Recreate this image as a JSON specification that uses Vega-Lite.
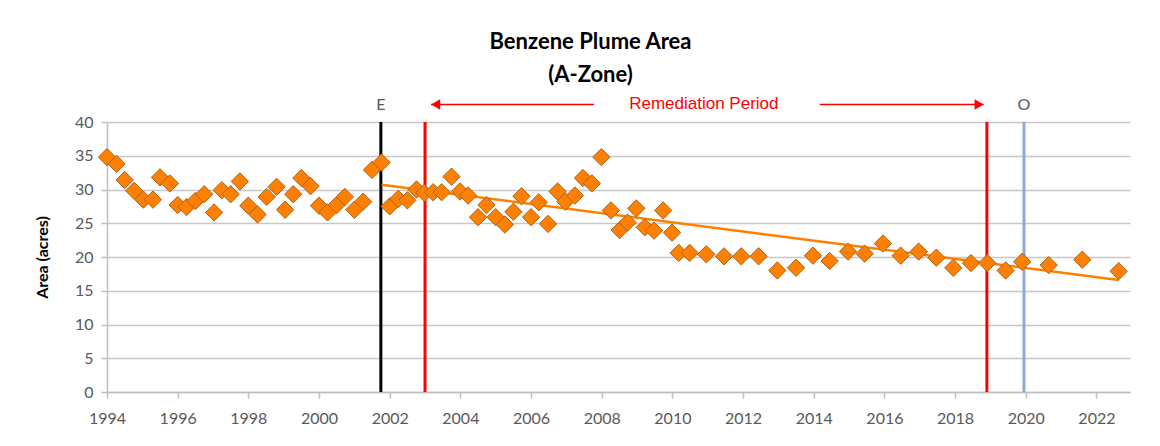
{
  "$schema": "https://vega.github.io/schema/vega-lite/v6.json",
  "autosize": "none",
  "width": 1023,
  "height": 270,
  "padding": {"left": 107, "top": 122, "right": 30, "bottom": 54},
  "background": "white",
  "config": {"view": {"stroke": null}, "font": "Lato"},
  "title": {
    "text": ["Benzene Plume Area", "(A-Zone)"],
    "font": "Lato",
    "fontSize": 22,
    "fontWeight": "bold",
    "color": "#000000",
    "lineHeight": 33,
    "anchor": "middle",
    "dx": -28,
    "offset": 8
  },
  "datasets": {
    "pts": [
      {"year": 1994.0, "value": 34.8}, {"year": 1994.27, "value": 33.8}, {"year": 1994.5, "value": 31.4},
      {"year": 1994.77, "value": 29.8}, {"year": 1995.03, "value": 28.5}, {"year": 1995.3, "value": 28.5},
      {"year": 1995.5, "value": 31.8}, {"year": 1995.78, "value": 30.9}, {"year": 1996.0, "value": 27.7},
      {"year": 1996.25, "value": 27.4}, {"year": 1996.5, "value": 28.3}, {"year": 1996.75, "value": 29.3},
      {"year": 1997.03, "value": 26.6}, {"year": 1997.25, "value": 29.9}, {"year": 1997.5, "value": 29.3},
      {"year": 1997.76, "value": 31.2}, {"year": 1998.0, "value": 27.6}, {"year": 1998.26, "value": 26.3},
      {"year": 1998.52, "value": 28.9}, {"year": 1998.8, "value": 30.4}, {"year": 1999.04, "value": 27.0},
      {"year": 1999.27, "value": 29.3}, {"year": 1999.5, "value": 31.7}, {"year": 1999.76, "value": 30.5},
      {"year": 2000.0, "value": 27.6}, {"year": 2000.24, "value": 26.6}, {"year": 2000.5, "value": 27.7},
      {"year": 2000.73, "value": 28.9}, {"year": 2001.0, "value": 27.0}, {"year": 2001.25, "value": 28.2},
      {"year": 2001.5, "value": 32.9}, {"year": 2001.77, "value": 34.0}, {"year": 2002.0, "value": 27.5},
      {"year": 2002.24, "value": 28.6}, {"year": 2002.5, "value": 28.4}, {"year": 2002.76, "value": 30.0},
      {"year": 2002.98, "value": 29.5}, {"year": 2003.23, "value": 29.6}, {"year": 2003.47, "value": 29.6},
      {"year": 2003.75, "value": 31.9}, {"year": 2003.99, "value": 29.7}, {"year": 2004.22, "value": 29.1},
      {"year": 2004.5, "value": 25.9}, {"year": 2004.74, "value": 27.7}, {"year": 2005.0, "value": 25.9},
      {"year": 2005.26, "value": 24.8}, {"year": 2005.5, "value": 26.7}, {"year": 2005.73, "value": 29.0},
      {"year": 2006.0, "value": 25.9}, {"year": 2006.22, "value": 28.1}, {"year": 2006.48, "value": 24.9},
      {"year": 2006.75, "value": 29.7}, {"year": 2006.97, "value": 28.2}, {"year": 2007.24, "value": 29.1},
      {"year": 2007.47, "value": 31.7}, {"year": 2007.72, "value": 30.9}, {"year": 2007.99, "value": 34.8},
      {"year": 2008.26, "value": 26.9}, {"year": 2008.51, "value": 24.0}, {"year": 2008.73, "value": 25.1},
      {"year": 2008.98, "value": 27.2}, {"year": 2009.22, "value": 24.4}, {"year": 2009.48, "value": 23.9},
      {"year": 2009.74, "value": 26.9}, {"year": 2009.99, "value": 23.6}, {"year": 2010.18, "value": 20.6},
      {"year": 2010.49, "value": 20.6}, {"year": 2010.96, "value": 20.4}, {"year": 2011.46, "value": 20.1},
      {"year": 2011.95, "value": 20.1}, {"year": 2012.44, "value": 20.1}, {"year": 2012.97, "value": 18.0},
      {"year": 2013.5, "value": 18.4}, {"year": 2013.98, "value": 20.2}, {"year": 2014.45, "value": 19.4},
      {"year": 2014.97, "value": 20.8}, {"year": 2015.44, "value": 20.5}, {"year": 2015.96, "value": 22.0},
      {"year": 2016.46, "value": 20.2}, {"year": 2016.97, "value": 20.8}, {"year": 2017.47, "value": 19.9},
      {"year": 2017.95, "value": 18.4}, {"year": 2018.45, "value": 19.1}, {"year": 2018.91, "value": 19.1},
      {"year": 2019.43, "value": 18.0}, {"year": 2019.9, "value": 19.3}, {"year": 2020.65, "value": 18.8},
      {"year": 2021.6, "value": 19.6}, {"year": 2022.63, "value": 17.9}
    ],
    "trend": [
      {"year": 2001.77, "value": 30.7},
      {"year": 2022.63, "value": 16.6}
    ],
    "vlines": [
      {"year": 2001.75, "line": "E", "value": 0, "top": 40},
      {"year": 2003.0, "line": "Start", "value": 0, "top": 40},
      {"year": 2018.9, "line": "End", "value": 0, "top": 40},
      {"year": 2019.95, "line": "O", "value": 0, "top": 40}
    ],
    "letters": [
      {"year": 2001.75, "label": "E", "value": 42.5},
      {"year": 2019.95, "label": "O", "value": 42.5}
    ],
    "period": [
      {"year": 2010.89, "label": "Remediation Period", "value": 42.6}
    ],
    "arrows": [
      {"year": 2003.17, "end": 2007.78, "value": 42.6},
      {"year": 2014.17, "end": 2018.81, "value": 42.6}
    ],
    "heads": [
      {"year": 2003.3, "dir": "left", "value": 42.6},
      {"year": 2018.68, "dir": "right", "value": 42.6}
    ]
  },
  "encoding": {
    "x": {
      "field": "year", "type": "quantitative",
      "scale": {"domain": [1994, 2022.95], "nice": false, "zero": false},
      "axis": {
        "values": [1994, 1996, 1998, 2000, 2002, 2004, 2006, 2008, 2010, 2012, 2014, 2016, 2018, 2020, 2022],
        "format": "d", "title": null, "grid": false,
        "labelFlush": false, "labelOverlap": false,
        "domainColor": "#bfbfbf", "domainWidth": 1.5,
        "tickColor": "#bfbfbf", "tickSize": 6, "tickWidth": 1.5,
        "labelFont": "Lato", "labelFontSize": 16, "labelColor": "#595959", "labelPadding": 12
      }
    },
    "y": {
      "field": "value", "type": "quantitative",
      "scale": {"domain": [0, 40], "nice": false},
      "axis": {
        "values": [0, 5, 10, 15, 20, 25, 30, 35, 40],
        "labelOverlap": false, "labelFlush": false,
        "title": "Area (acres)", "titleFont": "Lato", "titleFontSize": 16, "titleFontWeight": "bold",
        "titleColor": "#000000", "titlePadding": 24,
        "grid": true, "gridColor": "#c8c8c8", "gridWidth": 1.5,
        "domainColor": "#bfbfbf", "domainWidth": 1.5,
        "tickColor": "#bfbfbf", "tickSize": 6, "tickWidth": 1.5,
        "labelFont": "Lato", "labelFontSize": 16, "labelColor": "#595959", "labelPadding": 8
      }
    }
  },
  "layer": [
    {
      "data": {"name": "vlines"},
      "mark": {"type": "rule", "strokeWidth": 3},
      "encoding": {
        "y2": {"field": "top"},
        "color": {
          "field": "line", "type": "nominal",
          "scale": {"domain": ["E", "Start", "End", "O"], "range": ["#000000", "#ff0000", "#ff0000", "#8eaadb"]},
          "legend": null
        }
      }
    },
    {
      "data": {"name": "trend"},
      "mark": {"type": "line", "color": "#ff8000", "strokeWidth": 2.5},
      "encoding": {}
    },
    {
      "data": {"name": "pts"},
      "mark": {"type": "point", "shape": "diamond", "filled": true, "size": 300, "fill": "#ff8000", "stroke": "#a8641e", "strokeWidth": 1, "opacity": 1},
      "encoding": {}
    },
    {
      "data": {"name": "letters"},
      "mark": {"type": "text", "font": "Lato", "fontSize": 16, "color": "#595959", "baseline": "middle"},
      "encoding": {
        "text": {"field": "label"}
      }
    },
    {
      "data": {"name": "period"},
      "mark": {"type": "text", "font": "Liberation Sans", "fontSize": 17, "color": "#ff0000", "baseline": "middle"},
      "encoding": {
        "text": {"field": "label"}
      }
    },
    {
      "data": {"name": "arrows"},
      "mark": {"type": "rule", "color": "#ff0000", "strokeWidth": 1.5},
      "encoding": {
        "x2": {"field": "end"}
      }
    },
    {
      "data": {"name": "heads"},
      "mark": {"type": "point", "filled": true, "size": 110, "color": "#ff0000", "opacity": 1},
      "encoding": {
        "shape": {
          "field": "dir", "type": "nominal",
          "scale": {"domain": ["left", "right"], "range": ["triangle-left", "triangle-right"]},
          "legend": null
        }
      }
    }
  ]
}
